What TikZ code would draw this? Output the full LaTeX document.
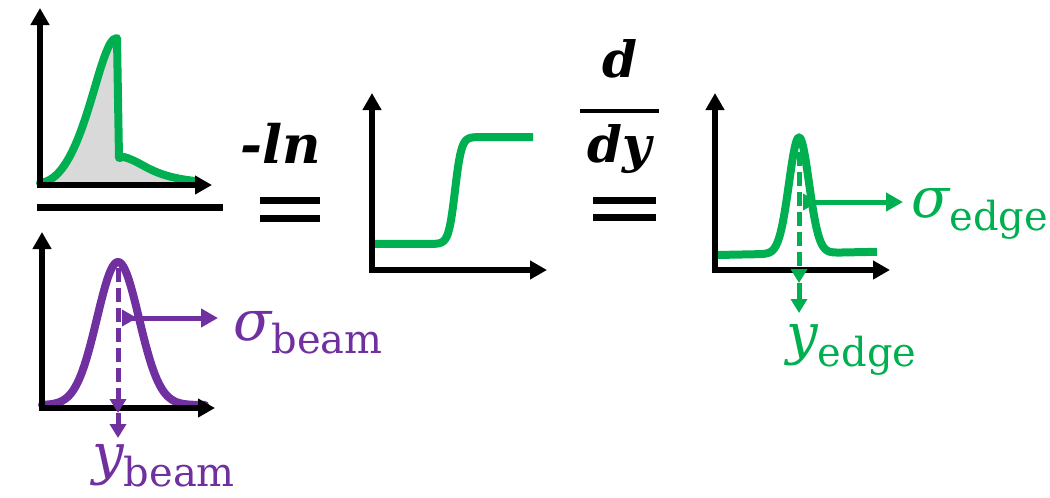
\documentclass[tikz,border=0pt]{standalone}
\usepackage{fontspec}
\usetikzlibrary{arrows.meta}
\newfontfamily\dvs{DejaVu Serif}
\definecolor{pgreen}{RGB}{0,176,80}
\definecolor{ppurple}{RGB}{112,48,160}
\definecolor{pgray}{RGB}{217,217,217}
\tikzset{
  axis/.style={line width=6pt,-{Triangle[length=17pt,width=18pt]}},
  gcurve/.style={pgreen,line width=8pt,line join=round,line cap=round},
  pcurve/.style={ppurple,line width=8pt,line join=round,line cap=round},
  dasharr/.style={line width=5pt,dash pattern=on 14pt off 6pt,-{Triangle[length=14pt,width=16pt]}},
  sigarr/.style={line width=5pt,{Triangle[reversed,length=15pt,width=16pt]}-{Triangle[length=17pt,width=18pt]}},
  bar/.style={line width=7pt},
  opbold/.style={inner sep=0pt,font=\dvs\bfseries\itshape},
  lab/.style={inner sep=0pt,anchor=base west},
}
\newcommand{\labtxt}[2]{{\fontsize{56}{56}\selectfont\itshape #1}{\fontsize{40}{40}\selectfont\raisebox{-13pt}{#2}}}
\begin{document}
\begin{tikzpicture}[x=1pt,y=-1pt]
\useasboundingbox (0,0) rectangle (1050,498);

% ---------- top-left plot (numerator) ----------
\coordinate (o1) at (40,185);
\coordinate (y1) at (40,8);
\coordinate (x1) at (212,185);
\fill[pgray] (40,183) .. controls (70,180) and (85,120) .. (100,70)
  .. controls (108,45) and (112,38) .. (117,38) -- (119,158) -- (124,157)
  .. controls (145,163) and (150,176) .. (195,181) -- (195,185) -- (40,185) -- cycle;
\draw[gcurve] (40,183) .. controls (70,180) and (85,120) .. (100,70)
  .. controls (108,45) and (112,38) .. (117,38) -- (119,158) -- (124,157)
  .. controls (145,163) and (150,176) .. (195,181);
\draw[axis] ([yshift=3pt]o1) -- (y1);
\draw[axis] ([xshift=-3pt]o1) -- (x1);

% fraction bar
\coordinate (fb1) at (37,207);
\coordinate (fb2) at (223,207);
\draw[bar] (fb1) -- (fb2);

% ---------- bottom-left plot (denominator) ----------
\coordinate (o2) at (42,408);
\coordinate (y2) at (42,232);
\coordinate (x2) at (215,408);
\draw[pcurve] plot[domain=42:205,samples=120] (\x,{405-143*exp(max(-12,-((\x-118)^2)/882))});
\draw[axis] ([yshift=3pt]o2) -- (y2);
\draw[axis] ([xshift=-3pt]o2) -- (x2);
\coordinate (pk2) at (118,268);
\coordinate (pa1) at (118,413);
\coordinate (pa2) at (118,438);
\draw[dasharr,ppurple] (pk2) -- (pa1);
\draw[dasharr,ppurple,dash pattern=on 10pt off 0pt] (pa1) -- (pa2);
\coordinate (ps1) at (122,318);
\coordinate (ps2) at (218,318);
\draw[sigarr,ppurple] (ps1) -- (ps2);
\node[lab,ppurple] (sb) at (233,340) {\dvs\labtxt{σ}{beam}};
\node[lab,ppurple] (yb) at (92,473) {\dvs\labtxt{y}{beam}};

% ---------- -ln and equals ----------
\node[opbold,anchor=base west,font=\dvs\bfseries\itshape\fontsize{53}{53}\selectfont] (ln) at (240,163) {-ln};
\coordinate (e1a) at (260,200); \coordinate (e1b) at (320,200);
\coordinate (e1c) at (260,218); \coordinate (e1d) at (320,218);
\draw[bar] (e1a) -- (e1b);
\draw[bar] (e1c) -- (e1d);

% ---------- middle plot ----------
\coordinate (o3) at (372,270);
\coordinate (y3) at (372,93);
\coordinate (x3) at (547,270);
\draw[gcurve,line cap=butt] plot[domain=372:533,samples=160] (\x,{244-107/(1+exp(max(-9,min(9,-(\x-455)/3.2))))});
\draw[axis] ([yshift=3pt]o3) -- (y3);
\draw[axis] ([xshift=-3pt]o3) -- (x3);

% ---------- d/dy and equals ----------
\node[opbold,anchor=base,font=\dvs\bfseries\itshape\fontsize{50}{50}\selectfont] (dn) at (620,77) {d};
\coordinate (fb3) at (580,111);
\coordinate (fb4) at (659,111);
\draw[line width=4pt] (fb3) -- (fb4);
\node[opbold,anchor=base,font=\dvs\bfseries\itshape\fontsize{50}{50}\selectfont] (dd) at (620,162) {dy};
\coordinate (e2a) at (593,200); \coordinate (e2b) at (656,200);
\coordinate (e2c) at (593,217); \coordinate (e2d) at (656,217);
\draw[bar] (e2a) -- (e2b);
\draw[bar] (e2c) -- (e2d);

% ---------- right plot ----------
\coordinate (o4) at (715,270);
\coordinate (y4) at (715,93);
\coordinate (x4) at (890,270);
\draw[gcurve,line cap=butt] plot[domain=717:877,samples=160] (\x,{255-0.02*(\x-717)-116*exp(max(-12,-((\x-799)^2)/200))});
\draw[axis] ([yshift=3pt]o4) -- (y4);
\draw[axis] ([xshift=-3pt]o4) -- (x4);
\coordinate (pk4) at (799,152);
\coordinate (ga1) at (799,283);
\coordinate (ga2) at (799,313);
\draw[dasharr,pgreen] (pk4) -- (ga1);
\draw[dasharr,pgreen,dash pattern=on 10pt off 0pt] (ga1) -- (ga2);
\coordinate (gs1) at (803,202);
\coordinate (gs2) at (903,202);
\draw[sigarr,pgreen] (gs1) -- (gs2);
\node[lab,pgreen] (se) at (911,217) {\dvs\labtxt{σ}{edge}};
\node[lab,pgreen] (ye) at (786,353) {\dvs\labtxt{y}{edge}};
\end{tikzpicture}
\end{document}
